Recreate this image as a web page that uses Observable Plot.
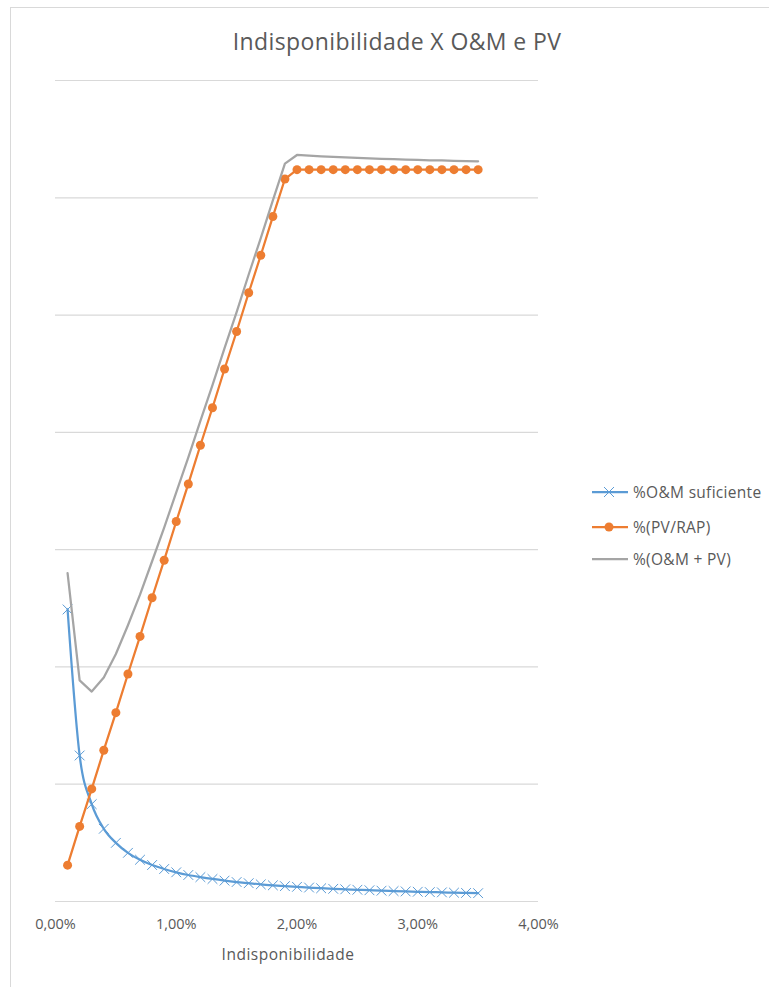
<!DOCTYPE html>
<html>
<head>
<meta charset="utf-8">
<script src="https://cdn.jsdelivr.net/npm/d3@7"></script>
<script src="https://cdn.jsdelivr.net/npm/@observablehq/plot@0.6"></script>
<style>
  html, body { margin: 0; padding: 0; background: #fff; }
  body { width: 769px; height: 987px; position: relative; overflow: hidden; font-family: "Open Sans", "Noto Sans", sans-serif; color: #595959; }
  #frame { position: absolute; left: 10px; top: 7px; width: 770px; height: 990px; border-left: 1.5px solid #d9d9d9; border-top: 1.5px solid #d9d9d9; }
  #chart { position: absolute; left: 0; top: 0; }
  #title { position: absolute; left: 0; width: 794px; top: 25px; text-align: center; font-size: 23px; letter-spacing: 0.4px; color: #595959; white-space: nowrap; }
  #xtitle { position: absolute; left: 0; width: 576px; top: 943px; text-align: center; font-size: 15.5px; color: #595959; letter-spacing: 0.5px; }
  #legend { position: absolute; left: 590px; top: 480px; font-size: 15.5px; letter-spacing: 0.3px; color: #595959; }
  .item { position: absolute; left: 0; height: 20px; white-space: nowrap; }
  .item svg { position: absolute; left: 0; top: 0; }
  .item span { position: absolute; left: 43px; top: 0px; line-height: 20px; }
</style>
</head>
<body>
<div id="frame"></div>
<div id="chart"></div>
<div id="title">Indisponibilidade X O&amp;M e PV</div>
<div id="xtitle">Indisponibilidade</div>
<div id="legend"></div>
<script>
// Indisponibilidade (%)
const indisp = [0.1,0.2,0.3,0.4,0.5,0.6,0.7,0.8,0.9,1.0,1.1,1.2,1.3,1.4,1.5,1.6,1.7,1.8,1.9,2.0,
                2.1,2.2,2.3,2.4,2.5,2.6,2.7,2.8,2.9,3.0,3.1,3.2,3.3,3.4,3.5];
// %O&M suficiente (unlabelled y units)
const omSuficiente = [2.49,1.245,0.83,0.62,0.50,0.415,0.356,0.311,0.277,0.249,0.226,0.208,0.192,0.178,0.166,0.156,0.146,0.138,0.131,0.125,
                      0.119,0.113,0.108,0.104,0.100,0.096,0.092,0.089,0.086,0.083,0.080,0.078,0.075,0.073,0.071];
// %(PV/RAP)
const pvRap = [0.31,0.64,0.96,1.29,1.61,1.94,2.26,2.59,2.91,3.24,3.56,3.89,4.21,4.54,4.86,5.19,5.51,5.84,6.16,6.24,
               6.24,6.24,6.24,6.24,6.24,6.24,6.24,6.24,6.24,6.24,6.24,6.24,6.24,6.24,6.24];
// %(O&M + PV)
const omMaisPv = [2.80,1.885,1.79,1.91,2.11,2.355,2.616,2.901,3.187,3.489,3.786,4.098,4.402,4.718,5.026,5.346,5.656,5.978,6.291,6.365,
                  6.359,6.353,6.348,6.344,6.340,6.336,6.332,6.329,6.326,6.323,6.320,6.318,6.315,6.313,6.311];
// axis ticks
const xTicks = [0, 1, 2, 3, 4];
const xTickLabels = ["0,00%", "1,00%", "2,00%", "3,00%", "4,00%"];
const yGrid = [0, 1, 2, 3, 4, 5, 6, 7];
const seriesNames = ["%O&M suficiente", "%(PV/RAP)", "%(O&M + PV)"];
const colors = ["#5b9bd5", "#ed7d31", "#a5a5a5"];

const blue = indisp.map((x, i) => ({x, y: omSuficiente[i]}));
const orange = indisp.map((x, i) => ({x, y: pvRap[i]}));
const gray = indisp.map((x, i) => ({x, y: omMaisPv[i]}));

const chart = Plot.plot({
  width: 769,
  height: 987,
  marginLeft: 55,
  marginRight: 231,
  marginTop: 80,
  marginBottom: 86,
  style: {fontFamily: '"Open Sans", "Noto Sans", sans-serif', background: "transparent"},
  x: {domain: [0, 4]},
  y: {domain: [0, 7], axis: null},
  marks: [
    Plot.ruleY(yGrid, {stroke: "#d9d9d9", strokeWidth: 1.2}),
    Plot.axisX({ticks: xTicks, tickFormat: (d) => xTickLabels[xTicks.indexOf(d)], tickSize: 0, tickPadding: 17, fontSize: 14.5, fill: "#595959", label: null}),
    Plot.line(blue, {x: "x", y: "y", stroke: colors[0], strokeWidth: 2.25, curve: "monotone-x"}),
    Plot.dot(blue, {x: "x", y: "y", symbol: "times", stroke: colors[0], r: 4.5, strokeWidth: 1}),
    Plot.line(orange, {x: "x", y: "y", stroke: colors[1], strokeWidth: 2.25}),
    Plot.dot(orange, {x: "x", y: "y", fill: colors[1], r: 4.5}),
    Plot.line(gray, {x: "x", y: "y", stroke: colors[2], strokeWidth: 2.25})
  ]
});
document.getElementById("chart").appendChild(chart);

// legend
const legend = document.getElementById("legend");
const tops = [2, 37, 69];
seriesNames.forEach((name, i) => {
  const item = document.createElement("div");
  item.className = "item";
  item.style.top = tops[i] + "px";
  let marker = "";
  if (i === 0) marker = `<path d="M14,5 L24,15 M24,5 L14,15" stroke="${colors[0]}" stroke-width="1" fill="none"/>`;
  if (i === 1) marker = `<circle cx="19" cy="10" r="4.5" fill="${colors[1]}"/>`;
  item.innerHTML = `<svg width="40" height="20"><line x1="2" y1="10" x2="38" y2="10" stroke="${colors[i]}" stroke-width="2.25"/>${marker}</svg><span>${name}</span>`;
  legend.appendChild(item);
});
</script>
</body>
</html>
